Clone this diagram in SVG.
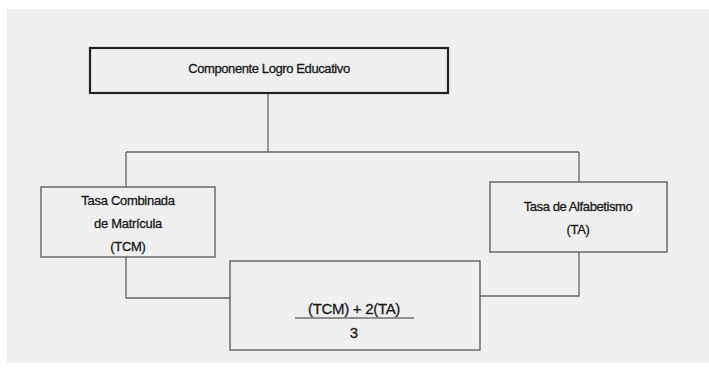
<svg xmlns="http://www.w3.org/2000/svg" width="709" height="373" viewBox="0 0 709 373">
<style>
text{font-family:"Liberation Sans",Arial,sans-serif;fill:#1a1a1a;stroke:#1a1a1a;stroke-width:0.3;text-anchor:middle}
.box{fill:none;stroke:#555;stroke-width:1.3}
.line{fill:none;stroke:#666;stroke-width:1.3}
</style>
<rect x="0" y="0" width="709" height="373" fill="#ffffff"/>
<rect x="7" y="9" width="702" height="354" fill="#efefef"/>
<g id="connectors">
<path class="line" d="M268 93 V152 M126 152 H579 M126 152 V187 M579 152 V182 M126 257 V298 H230 M579 252 V296 H480"/>
</g>
<g id="top">
<rect x="90" y="48" width="358" height="45" fill="none" stroke="#222" stroke-width="2.2"/>
<text x="269" y="73" font-size="13" letter-spacing="-0.4">Componente Logro Educativo</text>
</g>
<g id="tcm">
<rect class="box" x="41" y="187" width="174" height="70"/>
<text x="128" y="205" font-size="13" letter-spacing="-0.3">Tasa Combinada</text>
<text x="128" y="228" font-size="13" letter-spacing="-0.3">de Matrícula</text>
<text x="128" y="251" font-size="13" letter-spacing="-0.3">(TCM)</text>
</g>
<g id="ta">
<rect class="box" x="490" y="182" width="177" height="70"/>
<text x="578" y="211" font-size="13" letter-spacing="-0.4">Tasa de Alfabetismo</text>
<text x="578" y="234" font-size="13" letter-spacing="-0.3">(TA)</text>
</g>
<g id="formula">
<rect class="box" x="230" y="261" width="250" height="89"/>
<text x="354" y="314" font-size="15" letter-spacing="-0.3">(TCM) + 2(TA)</text>
<line x1="295" y1="318" x2="414" y2="318" stroke="#333" stroke-width="1.2"/>
<text x="354" y="338" font-size="15">3</text>
</g>
</svg>
